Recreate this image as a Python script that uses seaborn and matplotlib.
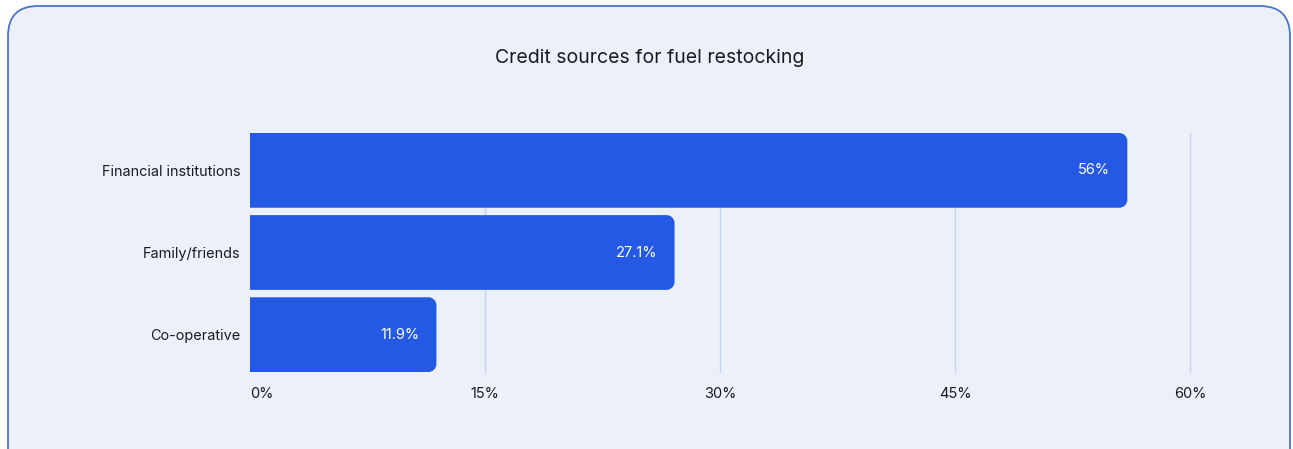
import matplotlib
matplotlib.use("Agg")
import matplotlib.pyplot as plt
from matplotlib.patches import FancyBboxPatch, PathPatch
from matplotlib.path import Path
from matplotlib.transforms import IdentityTransform
import seaborn as sns
import pandas as pd

# Data
sources = ["Financial institutions", "Family/friends", "Co-operative"]
shares = [56, 27.1, 11.9]
tick_values = [0, 15, 30, 45, 60]
tick_labels = ["0%", "15%", "30%", "45%", "60%"]
title = "Credit sources for fuel restocking"

BAR = "#2459E6"
PANEL = "#ECF0F9"
EDGE = "#4B74C9"
GRID = "#C3D4F5"
TEXT = "#1B1B1F"

sns.set_theme(style="white")
plt.rcParams["font.family"] = ["Inter", "DejaVu Sans"]

W, H = 1293, 449
fig = plt.figure(figsize=(W / 100, H / 100), dpi=100)
fig.patch.set_facecolor("white")

# Rounded card behind the chart (pixel coordinates, origin bottom-left)
card = FancyBboxPatch((8, -40), 1282, 483,
                      boxstyle="round,pad=0,rounding_size=30",
                      facecolor=PANEL, edgecolor=EDGE, linewidth=1.3,
                      transform=IdentityTransform(), zorder=0)
fig.add_artist(card)

fig.text(650 / W, 1 - 58 / H, title, ha="center", va="center",
         fontsize=14, color=TEXT)

ax = fig.add_axes([250 / W, 1 - 372 / H, (1190 - 250) / W, (372 - 133) / H])
ax.set_facecolor("none")

df = pd.DataFrame({"source": sources, "share": shares})
bar_w = 0.91
sns.barplot(data=df, x="share", y="source", orient="h", color=BAR,
            width=bar_w, ax=ax, zorder=3)

ax.set_xlim(0, 60)
ax.set_ylim(len(sources) - 1 + bar_w / 2, -bar_w / 2)


def right_rounded(x0, y0, w, h, rx, ry):
    """Bar outline with square left end and rounded right corners."""
    k = 0.5523
    x1, y1 = x0 + w, y0 + h
    verts = [
        (x0, y0), (x1 - rx, y0),
        (x1 - rx + k * rx, y0), (x1, y0 + ry - k * ry), (x1, y0 + ry),
        (x1, y1 - ry),
        (x1, y1 - ry + k * ry), (x1 - rx + k * rx, y1), (x1 - rx, y1),
        (x0, y1), (x0, y0),
    ]
    codes = [Path.MOVETO, Path.LINETO,
             Path.CURVE4, Path.CURVE4, Path.CURVE4,
             Path.LINETO,
             Path.CURVE4, Path.CURVE4, Path.CURVE4,
             Path.LINETO, Path.CLOSEPOLY]
    return Path(verts, codes)


# Swap plain bars for bars rounded on the right end
px_per_x = (1190 - 250) / 60
px_per_y = (372 - 133) / (len(sources) - 1 + bar_w)
radius_px = 8
rx = radius_px / px_per_x
ry = radius_px / px_per_y
for p in list(ax.patches):
    x0, y0 = p.get_x(), p.get_y()
    w, h = p.get_width(), p.get_height()
    p.set_visible(False)
    ax.add_patch(PathPatch(right_rounded(x0, y0, w, h, rx, ry),
                           facecolor=BAR, edgecolor="none", zorder=3))

for i, v in enumerate(shares):
    ax.annotate(f"{v:g}%", xy=(v, i), xytext=(-12.5, 0),
                textcoords="offset points", ha="right", va="center",
                color="white", fontsize=10.5, zorder=5)

for t in tick_values[1:]:
    ax.axvline(t, color=GRID, linewidth=1, zorder=1, clip_on=False)

ax.set_xticks(tick_values)
ax.set_xticklabels(tick_labels)
xl = ax.get_xticklabels()
xl[0].set_ha("left")
ax.tick_params(axis="x", length=0, pad=11, labelsize=10.5, labelcolor=TEXT)
ax.tick_params(axis="y", length=0, pad=7, labelsize=10.4, labelcolor=TEXT)
ax.set_xlabel("")
ax.set_ylabel("")
for s in ax.spines.values():
    s.set_visible(False)

fig.savefig("out.png", dpi=100)
